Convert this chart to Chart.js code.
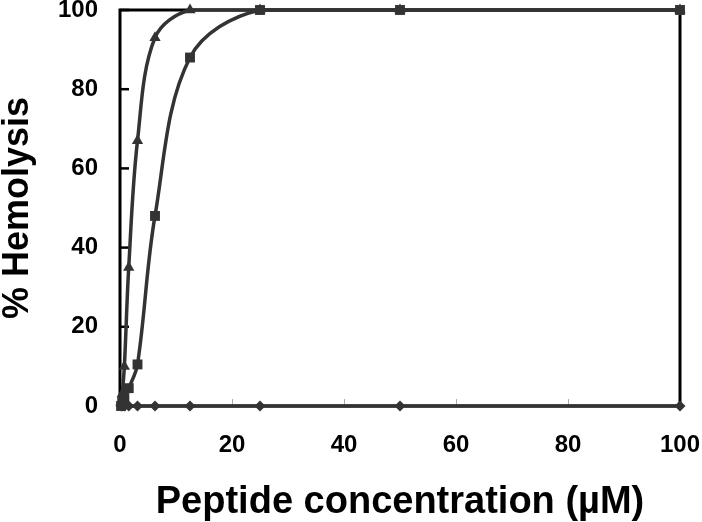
<!DOCTYPE html>
<html>
<head>
<meta charset="utf-8">
<script src="https://cdn.jsdelivr.net/npm/chart.js@4.4.0/dist/chart.umd.min.js"></script>
<style>
  html, body { margin: 0; padding: 0; background: #fff; }
  #wrap { width: 702px; height: 522px; }
</style>
</head>
<body>
<div id="wrap"><canvas id="chart" width="702" height="522"></canvas></div>
<script>
// peptide concentration (µM), two-fold dilution series
const concentrations = [0.195, 0.39, 0.78, 1.56, 3.125, 6.25, 12.5, 25, 50, 100];
const triangleHemolysis = [1, 3, 10, 35, 67, 93, 100, 100, 100, 100];
const squareHemolysis = [0, 1, 2, 4.5, 10.5, 48, 88, 100, 100, 100];
const diamondHemolysis = [0, 0, 0, 0, 0, 0, 0, 0, 0, 0];
const xTicks = [0, 20, 40, 60, 80, 100];
const yTicks = [0, 20, 40, 60, 80, 100];

const toPoints = vals => vals.map((v, i) => ({ x: concentrations[i], y: v }));
const FONT = '"Liberation Sans", Arial, sans-serif';
const SERIES = '#333333';

// tick marks drawn inside the plot + the black frame
const innerTicks = {
  id: 'innerTicks',
  beforeDatasetsDraw(chart) {
    const { ctx, chartArea: a, scales: { x, y } } = chart;
    ctx.save();
    ctx.strokeStyle = '#aaaaaa';
    ctx.lineWidth = 1;
    x.ticks.forEach(t => {
      const px = Math.round(x.getPixelForValue(t.value)) + 0.5;
      ctx.beginPath();
      ctx.moveTo(px, a.bottom);
      ctx.lineTo(px, a.bottom - 7);
      ctx.stroke();
    });
    ctx.strokeStyle = '#000';
    ctx.lineWidth = 2.5;
    y.ticks.forEach(t => {
      const py = y.getPixelForValue(t.value);
      ctx.beginPath();
      ctx.moveTo(a.left, py);
      ctx.lineTo(a.left + 9, py);
      ctx.stroke();
    });
    ctx.lineWidth = 3;
    ctx.strokeRect(a.left, a.top, a.right - a.left, a.bottom - a.top);
    ctx.restore();
  }
};

const seriesStyle = {
  showLine: true,
  tension: 0.35,
  borderColor: SERIES,
  backgroundColor: SERIES,
  borderWidth: 3.5,
  pointBorderWidth: 0,
  clip: false
};

new Chart(document.getElementById('chart'), {
  type: 'scatter',
  data: {
    datasets: [
      { ...seriesStyle, label: 'square', data: toPoints(squareHemolysis), pointStyle: 'rect', pointRadius: 7 },
      { ...seriesStyle, label: 'triangle', data: toPoints(triangleHemolysis), pointStyle: 'triangle', pointRadius: 6.5 },
      { ...seriesStyle, label: 'diamond', data: toPoints(diamondHemolysis), pointStyle: 'rectRot', pointRadius: 5.5 }
    ]
  },
  options: {
    responsive: false,
    animation: false,
    devicePixelRatio: 1,
    layout: { padding: { top: 10, right: 22, left: 0, bottom: 0 } },
    plugins: {
      legend: { display: false },
      tooltip: { enabled: false }
    },
    scales: {
      x: {
        type: 'linear',
        min: 0,
        max: 100,
        afterFit: s => { s.height = 116; s.paddingLeft = 0; s.paddingRight = 0; },
        afterBuildTicks: s => { s.ticks = xTicks.map(v => ({ value: v })); },
        grid: { display: false, drawTicks: false },
        border: { display: false },
        ticks: {
          padding: 25,
          color: '#000',
          maxRotation: 0,
          font: { family: FONT, size: 24, weight: 'bold' }
        },
        title: {
          display: true,
          text: 'Peptide concentration (µM)',
          color: '#000',
          padding: { top: 0, bottom: 0 },
          font: { family: FONT, size: 38, weight: 'bold', lineHeight: 1 }
        }
      },
      y: {
        type: 'linear',
        min: 0,
        max: 100,
        afterFit: s => { s.width = 120; s.paddingTop = 0; s.paddingBottom = 0; },
        afterBuildTicks: s => { s.ticks = yTicks.map(v => ({ value: v })); },
        grid: { display: false, drawTicks: false },
        border: { display: false },
        ticks: {
          padding: 22,
          color: '#000',
          font: { family: FONT, size: 24, weight: 'bold' }
        },
        title: {
          display: true,
          text: '% Hemolysis',
          color: '#000',
          padding: { top: 0, bottom: 0 },
          font: { family: FONT, size: 36, weight: 'bold', lineHeight: 1 }
        }
      }
    }
  },
  plugins: [innerTicks]
});
</script>
</body>
</html>
